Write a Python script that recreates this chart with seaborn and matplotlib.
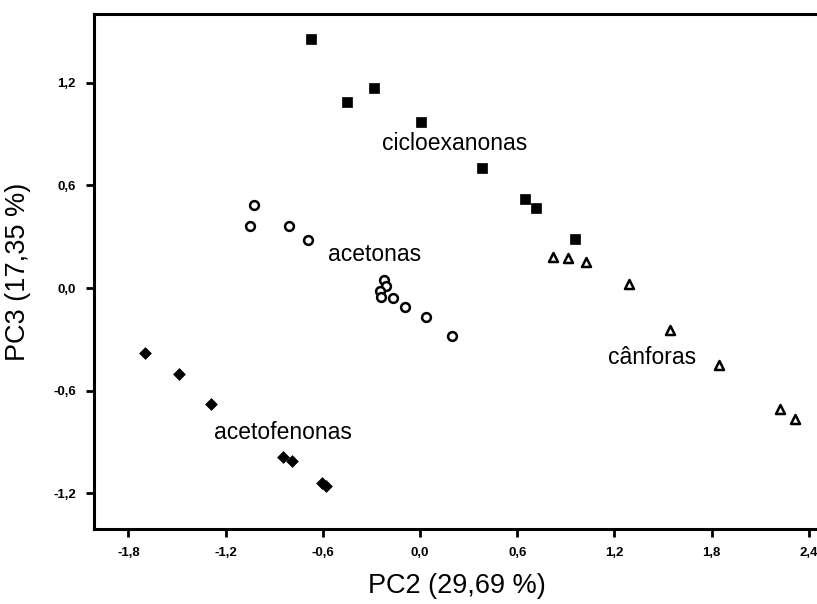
import matplotlib
matplotlib.use("Agg")
import matplotlib.pyplot as plt
import seaborn as sns
import pandas as pd

# PC2 / PC3 scores, one group per compound class
cicloexanonas_pc2 = [-0.670, -0.453, -0.283, 0.006, 0.383, 0.650, 0.714, 0.956]
cicloexanonas_pc3 = [1.458, 1.089, 1.172, 0.972, 0.700, 0.519, 0.468, 0.284]

acetonas_pc2 = [-1.027, -1.052, -0.806, -0.691, -0.224, -0.211, -0.246, -0.242,
                -0.167, -0.090, 0.035, 0.196]
acetonas_pc3 = [0.484, 0.363, 0.361, 0.278, 0.047, 0.012, -0.016, -0.053,
                -0.058, -0.111, -0.170, -0.282]

acetofenonas_pc2 = [-1.700, -1.489, -1.288, -0.844, -0.790, -0.604, -0.580]
acetofenonas_pc3 = [-0.382, -0.504, -0.681, -0.987, -1.012, -1.139, -1.157]

canforas_pc2 = [0.823, 0.912, 1.025, 1.290, 1.540, 1.847, 2.225, 2.316]
canforas_pc3 = [0.180, 0.178, 0.152, 0.023, -0.243, -0.450, -0.708, -0.766]

group_names = ["cicloexanonas", "acetonas", "acetofenonas", "cânforas"]
label_pc2 = [0.213, -0.278, -0.846, 1.432]
label_pc3 = [0.846, 0.193, -0.842, -0.409]

x_ticks = [-1.8, -1.2, -0.6, 0.0, 0.6, 1.2, 1.8, 2.4]
y_ticks = [-1.2, -0.6, 0.0, 0.6, 1.2]


def build_frame():
    parts = []
    for name, xs, ys in [("cicloexanonas", cicloexanonas_pc2, cicloexanonas_pc3),
                         ("acetonas", acetonas_pc2, acetonas_pc3),
                         ("acetofenonas", acetofenonas_pc2, acetofenonas_pc3),
                         ("cânforas", canforas_pc2, canforas_pc3)]:
        parts.append(pd.DataFrame({"PC2": xs, "PC3": ys, "grupo": name}))
    return pd.concat(parts, ignore_index=True)


def main():
    df = build_frame()

    sns.set_style("white")
    plt.rcParams['font.family'] = ['Liberation Sans', 'DejaVu Sans']
    #  everything pure black like the scanned original
    plt.rcParams['text.color'] = 'black'
    plt.rcParams['axes.labelcolor'] = 'black'
    plt.rcParams['xtick.color'] = 'black'
    plt.rcParams['ytick.color'] = 'black'

    fig = plt.figure(figsize=(8.17, 6.04), dpi=100)
    ax = fig.add_axes([0.1151, 0.1242, 0.8874, 0.8526])

    #  marker styles per group (filled / open)
    styles = {
        "cicloexanonas": dict(marker="s", s=46, color="black", edgecolor="black", linewidth=0.5),
        "acetonas": dict(marker="o", s=40, facecolor="white", edgecolor="black", linewidth=1.8),
        "acetofenonas": dict(marker="D", s=36, color="black", edgecolor="black", linewidth=0.5),
        "cânforas": dict(marker="^", s=42, facecolor="white", edgecolor="black", linewidth=1.8),
    }
    for name in group_names:
        sub = df[df["grupo"] == name]
        sns.scatterplot(data=sub, x="PC2", y="PC3", ax=ax, legend=False, **styles[name])

    for name, lx, ly in zip(group_names, label_pc2, label_pc3):
        ax.text(lx, ly, name, fontsize=16.5, ha="center", va="center", color="black")

    ax.set_xlim(-2.012, 2.463)
    ax.set_ylim(-1.409, 1.602)
    ax.set_xticks(x_ticks)
    ax.set_yticks(y_ticks)
    ax.set_xticklabels([("%.1f" % v).replace(".", ",") for v in x_ticks],
                       fontsize=9.5, fontweight="bold")
    ax.set_yticklabels([("%.1f" % v).replace(".", ",") for v in y_ticks],
                       fontsize=9.5, fontweight="bold")
    ax.tick_params(axis="both", direction="out", length=6, width=2, color="black",
                   bottom=True, left=True, pad=7)

    for side in ["left", "bottom", "top", "right"]:
        ax.spines[side].set_color("black")
        ax.spines[side].set_linewidth(2.2)

    ax.set_xlabel("PC2 (29,69 %)", fontsize=19.5, labelpad=10)
    ax.set_ylabel("PC3 (17,35 %)", fontsize=19.5, labelpad=16)

    fig.savefig("out.png", dpi=100)


if __name__ == '__main__':
    main()
